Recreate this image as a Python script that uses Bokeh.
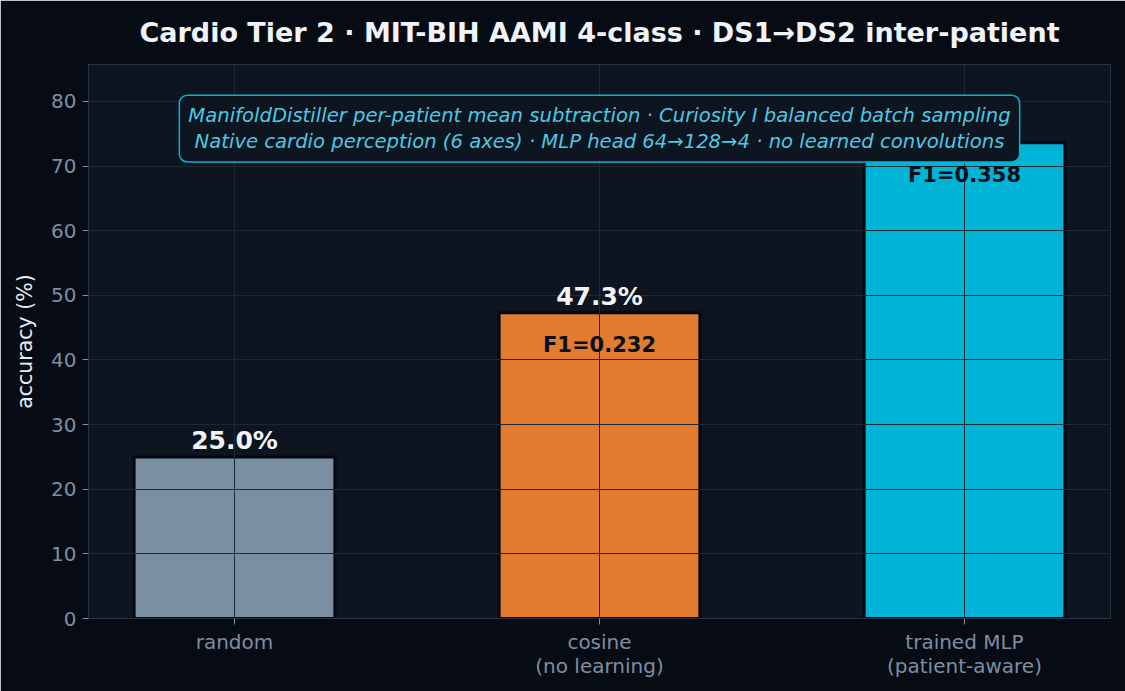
from bokeh.plotting import figure
from bokeh.models import Range1d, FixedTicker, Label, ColumnDataSource
from bokeh.core.properties import value
from bokeh.embed import file_html
from bokeh.resources import INLINE

# ---- data ----
categories = ["random", "cosine\n(no learning)", "trained MLP\n(patient-aware)"]
accuracy = [25.0, 47.3, 73.6]
f1_scores = [None, 0.232, 0.358]
bar_colors = ["#7b8fa3", "#e07b30", "#00b4d8"]
y_ticks = [0, 10, 20, 30, 40, 50, 60, 70, 80]
title_text = "Cardio Tier 2 · MIT-BIH AAMI 4-class · DS1→DS2 inter-patient"
note_text = ("ManifoldDistiller per-patient mean subtraction · Curiosity I balanced batch sampling\n"
             "Native cardio perception (6 axes) · MLP head 64→128→4 · no learned convolutions")

FONT = "DejaVu Sans"
OUTER = "#070b14"
PANEL = "#0c1520"
SPINE = "#283342"
GRID = "#1e2936"
TICKC = "#7d8fa3"

xs = list(range(len(categories)))
YMAX = 85.72

p = figure(width=1125, height=691, x_range=Range1d(-0.4, 2.4), y_range=Range1d(0, YMAX),
           output_backend="svg", toolbar_location=None,
           min_border_left=88, min_border_right=15, min_border_top=64, min_border_bottom=73)

p.background_fill_color = PANEL
p.border_fill_color = OUTER
p.outline_line_color = SPINE
p.outline_line_width = 1

# title
p.title.text = title_text
p.title.align = "center"
p.title.vertical_align = "top"
p.title.text_font = FONT
p.title.text_font_size = "27px"
p.title.text_font_style = "bold"
p.title.text_color = "#f0f4f8"
p.title.standoff = 29

# bars
src = ColumnDataSource(dict(x=xs, top=accuracy, color=bar_colors,
                            vlab=[f"{v:.1f}%" for v in accuracy]))
p.vbar(x="x", top="top", width=0.55, source=src, fill_color="color",
       line_color="#05080f", line_width=3)

# grids above bars
p.xgrid.ticker = FixedTicker(ticks=xs)
p.ygrid.ticker = FixedTicker(ticks=y_ticks)
for g in (p.xgrid, p.ygrid):
    g.grid_line_color = GRID
    g.grid_line_width = 1
    g.level = "guide"

# value labels
vr = p.text(x="x", y="top", text="vlab", source=src, y_offset=-16,
            text_align="center", text_baseline="middle",
            text_font=value(FONT), text_font_size="25px", text_font_style="bold",
            text_color="#f0f4f8")
vr.level = "annotation"

fx = [x for x, f in zip(xs, f1_scores) if f is not None]
fy = [a for a, f in zip(accuracy, f1_scores) if f is not None]
ft = [f"F1={f:.3f}" for f in f1_scores if f is not None]
fr = p.text(x=fx, y=fy, text=ft, y_offset=32,
            text_align="center", text_baseline="middle",
            text_font=value(FONT), text_font_size="21px", text_font_style="bold",
            text_color="#0a0f18")
fr.level = "annotation"

# note box
note = Label(x=1.0, y=75.8, text=note_text, text_align="center", text_baseline="middle",
             text_font=FONT, text_font_size="19.6px", text_font_style="italic",
             text_color="#4ec8e2", text_line_height=1.12,
             background_fill_color=PANEL, background_fill_alpha=1.0,
             border_line_color="#00b4d8", border_line_width=1.5,
             border_radius=8, padding=9, level="overlay")
p.add_layout(note)

# axes
p.xaxis.ticker = FixedTicker(ticks=xs)
p.xaxis.major_label_overrides = {i: c for i, c in zip(xs, categories)}
p.yaxis.ticker = FixedTicker(ticks=y_ticks)
for ax in (p.xaxis, p.yaxis):
    ax.axis_line_color = SPINE
    ax.major_tick_line_color = TICKC
    ax.major_tick_in = 0
    ax.major_tick_out = 6
    ax.minor_tick_line_color = None
    ax.major_label_text_color = TICKC
    ax.major_label_text_font = FONT
    ax.major_label_text_font_size = "20px"
    ax.major_label_text_line_height = 1.0
    ax.major_label_standoff = 6
p.xaxis.major_label_standoff = 5
p.yaxis.axis_label = "accuracy (%)"
p.yaxis.axis_label_text_font = FONT
p.yaxis.axis_label_text_font_size = "20.5px"
p.yaxis.axis_label_text_font_style = "normal"
p.yaxis.axis_label_text_color = "#e6edf3"
p.yaxis.axis_label_standoff = 11

open("out.html", "w").write(file_html(p, INLINE))
